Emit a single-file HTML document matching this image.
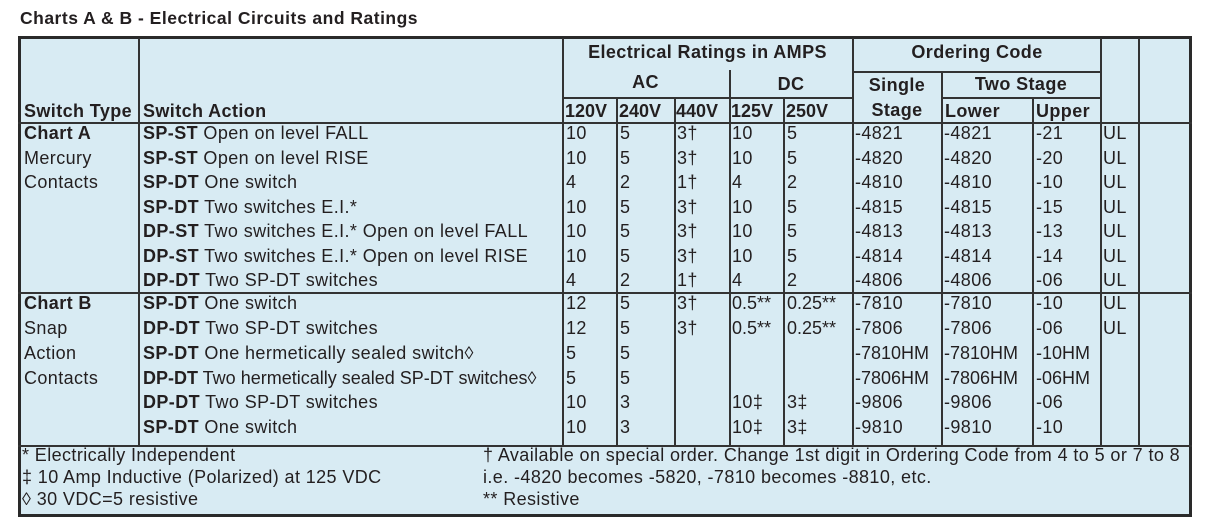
<!DOCTYPE html>
<html><head><meta charset="utf-8">
<style>
body{margin:0;width:1230px;height:530px;background:#fff;position:relative;overflow:hidden;font-family:"Liberation Sans",Arial,sans-serif;color:#231f20}
.a{position:absolute}
.tb{position:absolute;left:18px;top:36px;width:1168px;height:475px;background:#d8ebf3;border:3px solid #2a2a2a}
.h{position:absolute;height:1.5px;background:#333}
.v{position:absolute;width:1.5px;background:#333}
.t{position:absolute;font-size:18px;letter-spacing:0.4px;line-height:22px;white-space:nowrap}
.b{font-weight:bold}
.c{text-align:center}
</style></head><body>
<div class="a b" style="left:20px;top:8px;font-size:17.5px;letter-spacing:0.5px">Charts A &amp; B - Electrical Circuits and Ratings</div>
<div class="tb"></div>
<div class="h" style="left:18px;width:1174px;top:122px;height:2px"></div>
<div class="h" style="left:18px;width:1174px;top:292px"></div>
<div class="h" style="left:18px;width:1174px;top:445px;height:2px"></div>
<div class="h" style="left:853px;width:248px;top:71px"></div>
<div class="h" style="left:562px;width:291px;top:97px"></div>
<div class="h" style="left:941px;width:160px;top:97px"></div>
<div class="v" style="left:138px;top:38px;height:408px"></div>
<div class="v" style="left:562px;top:38px;height:408px"></div>
<div class="v" style="left:616px;top:97px;height:349px"></div>
<div class="v" style="left:674px;top:97px;height:349px"></div>
<div class="v" style="left:729px;top:70px;height:376px"></div>
<div class="v" style="left:783px;top:97px;height:349px"></div>
<div class="v" style="left:852px;top:38px;height:408px"></div>
<div class="v" style="left:941px;top:71px;height:375px"></div>
<div class="v" style="left:1032px;top:97px;height:349px"></div>
<div class="v" style="left:1100px;top:38px;height:408px"></div>
<div class="v" style="left:1138px;top:38px;height:408px"></div>
<div class="t b c" style="left:562px;width:291px;top:41px">Electrical Ratings in AMPS</div>
<div class="t b c" style="left:853px;width:248px;top:41px">Ordering Code</div>
<div class="t b c" style="left:562px;width:167px;top:71px">AC</div>
<div class="t b c" style="left:729px;width:124px;top:73px">DC</div>
<div class="t b c" style="left:853px;width:88px;top:74px">Single</div>
<div class="t b c" style="left:853px;width:88px;top:99px">Stage</div>
<div class="t b c" style="left:941px;width:160px;top:73px">Two Stage</div>
<div class="t b" style="left:24px;top:100px">Switch Type</div>
<div class="t b" style="left:143px;top:100px">Switch Action</div>
<div class="t b" style="left:565px;top:100px;letter-spacing:0">120V</div>
<div class="t b" style="left:619px;top:100px;letter-spacing:0">240V</div>
<div class="t b" style="left:676px;top:100px;letter-spacing:0">440V</div>
<div class="t b" style="left:731px;top:100px;letter-spacing:0">125V</div>
<div class="t b" style="left:786px;top:100px;letter-spacing:0">250V</div>
<div class="t b" style="left:945px;top:100px">Lower</div>
<div class="t b" style="left:1036px;top:100px">Upper</div>

<div class="t" style="top:122px;left:0">
<span class="a b" style="left:24px">Chart A</span><span class="a" style="left:143px"><b>SP-ST</b> Open on level FALL</span><span class="a" style="left:566px">10</span><span class="a" style="left:620px">5</span><span class="a" style="left:677px">3†</span><span class="a" style="left:732px">10</span><span class="a" style="left:787px">5</span><span class="a" style="left:855px">-4821</span><span class="a" style="left:944px">-4821</span><span class="a" style="left:1036px">-21</span><span class="a" style="left:1103px">UL</span></div>
<div class="t" style="top:147px;left:0">
<span class="a" style="left:24px">Mercury</span><span class="a" style="left:143px"><b>SP-ST</b> Open on level RISE</span><span class="a" style="left:566px">10</span><span class="a" style="left:620px">5</span><span class="a" style="left:677px">3†</span><span class="a" style="left:732px">10</span><span class="a" style="left:787px">5</span><span class="a" style="left:855px">-4820</span><span class="a" style="left:944px">-4820</span><span class="a" style="left:1036px">-20</span><span class="a" style="left:1103px">UL</span></div>
<div class="t" style="top:171px;left:0">
<span class="a" style="left:24px">Contacts</span><span class="a" style="left:143px"><b>SP-DT</b> One switch</span><span class="a" style="left:566px">4</span><span class="a" style="left:620px">2</span><span class="a" style="left:677px">1†</span><span class="a" style="left:732px">4</span><span class="a" style="left:787px">2</span><span class="a" style="left:855px">-4810</span><span class="a" style="left:944px">-4810</span><span class="a" style="left:1036px">-10</span><span class="a" style="left:1103px">UL</span></div>
<div class="t" style="top:196px;left:0">
<span class="a" style="left:143px"><b>SP-DT</b> Two switches E.I.*</span><span class="a" style="left:566px">10</span><span class="a" style="left:620px">5</span><span class="a" style="left:677px">3†</span><span class="a" style="left:732px">10</span><span class="a" style="left:787px">5</span><span class="a" style="left:855px">-4815</span><span class="a" style="left:944px">-4815</span><span class="a" style="left:1036px">-15</span><span class="a" style="left:1103px">UL</span></div>
<div class="t" style="top:220px;left:0">
<span class="a" style="left:143px"><b>DP-ST</b> Two switches E.I.* Open on level FALL</span><span class="a" style="left:566px">10</span><span class="a" style="left:620px">5</span><span class="a" style="left:677px">3†</span><span class="a" style="left:732px">10</span><span class="a" style="left:787px">5</span><span class="a" style="left:855px">-4813</span><span class="a" style="left:944px">-4813</span><span class="a" style="left:1036px">-13</span><span class="a" style="left:1103px">UL</span></div>
<div class="t" style="top:245px;left:0">
<span class="a" style="left:143px"><b>DP-ST</b> Two switches E.I.* Open on level RISE</span><span class="a" style="left:566px">10</span><span class="a" style="left:620px">5</span><span class="a" style="left:677px">3†</span><span class="a" style="left:732px">10</span><span class="a" style="left:787px">5</span><span class="a" style="left:855px">-4814</span><span class="a" style="left:944px">-4814</span><span class="a" style="left:1036px">-14</span><span class="a" style="left:1103px">UL</span></div>
<div class="t" style="top:269px;left:0">
<span class="a" style="left:143px"><b>DP-DT</b> Two SP-DT switches</span><span class="a" style="left:566px">4</span><span class="a" style="left:620px">2</span><span class="a" style="left:677px">1†</span><span class="a" style="left:732px">4</span><span class="a" style="left:787px">2</span><span class="a" style="left:855px">-4806</span><span class="a" style="left:944px">-4806</span><span class="a" style="left:1036px">-06</span><span class="a" style="left:1103px">UL</span></div>

<div class="t" style="top:292px;left:0">
<span class="a b" style="left:24px">Chart B</span><span class="a" style="left:143px"><b>SP-DT</b> One switch</span><span class="a" style="left:566px">12</span><span class="a" style="left:620px">5</span><span class="a" style="left:677px">3†</span><span class="a" style="left:732px;letter-spacing:0">0.5**</span><span class="a" style="left:787px;letter-spacing:0">0.25**</span><span class="a" style="left:855px">-7810</span><span class="a" style="left:944px">-7810</span><span class="a" style="left:1036px">-10</span><span class="a" style="left:1103px">UL</span></div>
<div class="t" style="top:317px;left:0">
<span class="a" style="left:24px">Snap</span><span class="a" style="left:143px"><b>DP-DT</b> Two SP-DT switches</span><span class="a" style="left:566px">12</span><span class="a" style="left:620px">5</span><span class="a" style="left:677px">3†</span><span class="a" style="left:732px;letter-spacing:0">0.5**</span><span class="a" style="left:787px;letter-spacing:0">0.25**</span><span class="a" style="left:855px">-7806</span><span class="a" style="left:944px">-7806</span><span class="a" style="left:1036px">-06</span><span class="a" style="left:1103px">UL</span></div>
<div class="t" style="top:342px;left:0">
<span class="a" style="left:24px">Action</span><span class="a" style="left:143px"><b>SP-DT</b> One hermetically sealed switch◊</span><span class="a" style="left:566px">5</span><span class="a" style="left:620px">5</span><span class="a" style="left:855px;letter-spacing:0">-7810HM</span><span class="a" style="left:944px;letter-spacing:0">-7810HM</span><span class="a" style="left:1036px;letter-spacing:0">-10HM</span></div>
<div class="t" style="top:367px;left:0">
<span class="a" style="left:24px">Contacts</span><span class="a" style="left:143px;letter-spacing:0"><b>DP-DT</b> Two hermetically sealed SP-DT switches◊</span><span class="a" style="left:566px">5</span><span class="a" style="left:620px">5</span><span class="a" style="left:855px;letter-spacing:0">-7806HM</span><span class="a" style="left:944px;letter-spacing:0">-7806HM</span><span class="a" style="left:1036px;letter-spacing:0">-06HM</span></div>
<div class="t" style="top:391px;left:0">
<span class="a" style="left:143px"><b>DP-DT</b> Two SP-DT switches</span><span class="a" style="left:566px">10</span><span class="a" style="left:620px">3</span><span class="a" style="left:732px">10‡</span><span class="a" style="left:787px">3‡</span><span class="a" style="left:855px">-9806</span><span class="a" style="left:944px">-9806</span><span class="a" style="left:1036px">-06</span></div>
<div class="t" style="top:416px;left:0">
<span class="a" style="left:143px"><b>SP-DT</b> One switch</span><span class="a" style="left:566px">10</span><span class="a" style="left:620px">3</span><span class="a" style="left:732px">10‡</span><span class="a" style="left:787px">3‡</span><span class="a" style="left:855px">-9810</span><span class="a" style="left:944px">-9810</span><span class="a" style="left:1036px">-10</span></div>

<div class="t" style="left:22px;top:444px">* Electrically Independent</div>
<div class="t" style="left:22px;top:466px">‡ 10 Amp Inductive (Polarized) at 125 VDC</div>
<div class="t" style="left:22px;top:488px">◊ 30 VDC=5 resistive</div>
<div class="t" style="left:483px;top:444px">† Available on special order. Change 1st digit in Ordering Code from 4 to 5 or 7 to 8</div>
<div class="t" style="left:483px;top:466px">i.e. -4820 becomes -5820, -7810 becomes -8810, etc.</div>
<div class="t" style="left:483px;top:488px">** Resistive</div>
</body></html>
